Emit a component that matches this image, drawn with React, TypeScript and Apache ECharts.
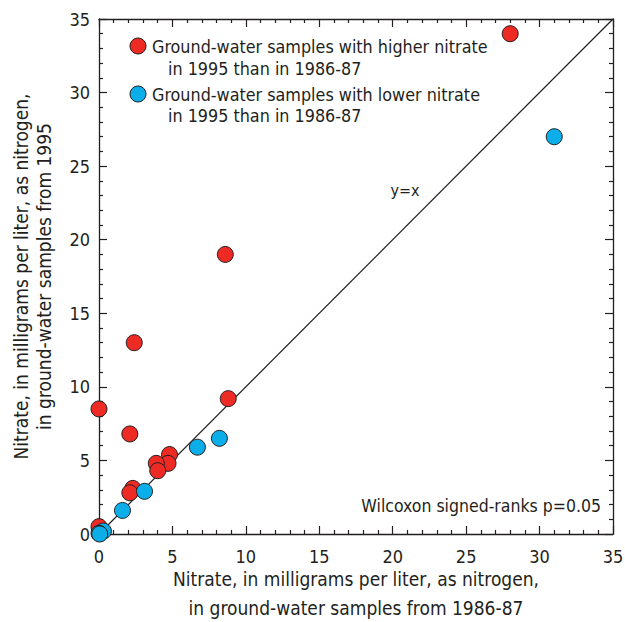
import React, { useEffect, useRef } from "react";
import * as echarts from "echarts";

const higherSeries: [number, number][] = [
  [28.0, 34.0], [8.6, 19.0], [2.4, 13.0], [0.0, 8.5], [2.1, 6.8], [8.8, 9.2],
  [4.8, 5.4], [4.7, 4.8], [3.9, 4.8], [4.0, 4.3], [2.3, 3.1], [2.1, 2.8], [0.0, 0.5],
];
const lowerSeries: [number, number][] = [
  [31.0, 27.0], [8.2, 6.5], [6.7, 5.9], [3.1, 2.9], [1.6, 1.6], [0.3, 0.2], [0.0, 0.05], [0.05, 0.0],
];
const equalityLine: [number, number][] = [[0, 0], [35, 35]];
const axisMin = 0;
const axisMax = 35;
const majorStep = 5;

const legendHigher = ["Ground-water samples with higher nitrate", "in 1995 than in 1986-87"];
const legendLower = ["Ground-water samples with lower nitrate", "in 1995 than in 1986-87"];
const xTitle = "Nitrate, in milligrams per liter, as nitrogen,\nin ground-water samples from 1986-87";
const yTitle = "Nitrate, in milligrams per liter, as nitrogen,\nin ground-water samples from 1995";
const lineLabel = "y=x";
const statLabel = "Wilcoxon signed-ranks p=0.05";

const FONT = "'DejaVu Sans Condensed', 'Liberation Sans Narrow', sans-serif";
const RED = "#EE2A24";
const BLUE = "#0BAEE8";
const INK = "#231F20";

function axisBase(show: boolean) {
  return {
    type: "value" as const,
    min: axisMin,
    max: axisMax,
    interval: majorStep,
    axisLine: { show: true, onZero: false, lineStyle: { color: INK, width: 1.3 } },
    axisTick: { show: true, inside: true, length: 8, lineStyle: { color: INK, width: 1.2 } },
    minorTick: { show: true, splitNumber: 5, length: 4, lineStyle: { color: INK, width: 1.2 } },
    splitLine: { show: false },
    minorSplitLine: { show: false },
    axisLabel: {
      show,
      color: INK,
      fontFamily: FONT,
      fontSize: 18,
    },
  };
}

export default function App() {
  const ref = useRef<HTMLDivElement>(null);
  useEffect(() => {
    if (!ref.current) return;
    const chart = echarts.init(ref.current, undefined, { renderer: "svg" });
    const textStyle = { fontFamily: FONT, fontSize: 17.8, fill: INK };
    chart.setOption({
      animation: false,
      backgroundColor: "#ffffff",
      grid: { left: 99, top: 19, right: 12, bottom: 88, containLabel: false, outerBoundsMode: "none" },
      xAxis: [
        {
          ...axisBase(true),
          position: "bottom",
          axisLabel: { ...axisBase(true).axisLabel, margin: 13 },
          name: xTitle,
          nameLocation: "middle",
          nameGap: 30,
          nameMoveOverlap: false,
          nameTextStyle: { color: INK, fontFamily: FONT, fontSize: 19, lineHeight: 29, verticalAlign: "top" },
        },
        { ...axisBase(false), position: "top" },
      ],
      yAxis: [
        {
          ...axisBase(true),
          position: "left",
          axisLabel: { ...axisBase(true).axisLabel, margin: 9 },
          name: yTitle,
          nameLocation: "middle",
          nameGap: 44,
          nameMoveOverlap: false,
          nameTextStyle: { color: INK, fontFamily: FONT, fontSize: 19, lineHeight: 23, verticalAlign: "bottom" },
        },
        { ...axisBase(false), position: "right" },
      ],
      series: [
        {
          type: "line",
          data: equalityLine,
          symbol: "none",
          lineStyle: { color: INK, width: 1.2 },
          z: 1,
        },
        {
          type: "scatter",
          data: higherSeries,
          symbolSize: 16,
          itemStyle: { color: RED, borderColor: INK, borderWidth: 1, opacity: 1 },
          z: 3,
        },
        {
          type: "scatter",
          data: lowerSeries,
          symbolSize: 16,
          itemStyle: { color: BLUE, borderColor: INK, borderWidth: 1, opacity: 1 },
          z: 4,
        },
      ],
      graphic: [
        { type: "circle", shape: { cx: 138, cy: 46, r: 8 }, style: { fill: RED, stroke: INK, lineWidth: 1 } },
        { type: "text", x: 152, y: 46, style: { ...textStyle, text: legendHigher[0], verticalAlign: "middle" } },
        { type: "text", x: 168, y: 68, style: { ...textStyle, text: legendHigher[1], verticalAlign: "middle" } },
        { type: "circle", shape: { cx: 138, cy: 94, r: 8 }, style: { fill: BLUE, stroke: INK, lineWidth: 1 } },
        { type: "text", x: 152, y: 94, style: { ...textStyle, text: legendLower[0], verticalAlign: "middle" } },
        { type: "text", x: 168, y: 115, style: { ...textStyle, text: legendLower[1], verticalAlign: "middle" } },
        { type: "text", x: 405, y: 190, style: { ...textStyle, fontSize: 16, text: lineLabel, align: "center", verticalAlign: "middle" } },
        { type: "text", x: 601, y: 506, style: { ...textStyle, fontSize: 17.5, text: statLabel, align: "right", verticalAlign: "middle" } },
      ],
    });
    return () => chart.dispose();
  }, []);
  return <div ref={ref} style={{ width: 625, height: 622, position: "absolute", left: 0, top: 0 }} />;
}
